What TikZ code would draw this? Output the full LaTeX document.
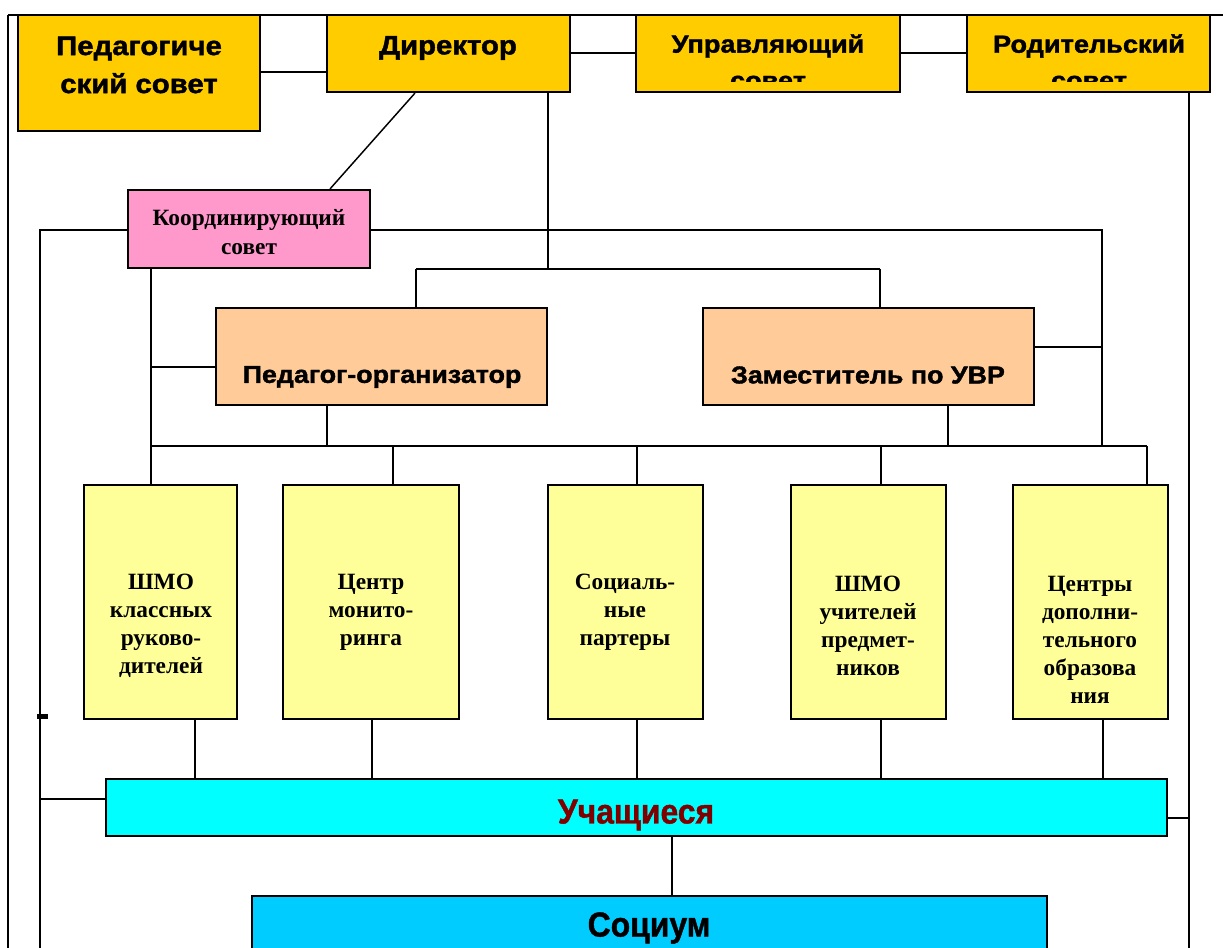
\documentclass[tikz,border=0pt]{standalone}
\usepackage{fontspec}
\setmainfont{Liberation Serif}
\newfontfamily\hv[FakeStretch=1.1,BoldFeatures={FakeBold=1.6}]{Liberation Sans}
\newfontfamily\hvn[FakeStretch=0.92,BoldFeatures={FakeBold=1.2}]{Liberation Sans}
\definecolor{gold}{HTML}{FFCC00}
\definecolor{pinkc}{HTML}{FF99CC}
\definecolor{peach}{HTML}{FFCC99}
\definecolor{lyel}{HTML}{FFFF99}
\definecolor{cyanc}{HTML}{00FFFF}
\definecolor{skyc}{HTML}{00CCFF}
\definecolor{dred}{HTML}{800000}
\newcommand\mkbox[6]{\node[box,#2,minimum width={(#5-#3)*0.75pt},minimum height={(#6-#4)*0.75pt}] (#1) at ({(#3+#5)/2},{(#4+#6)/2}) {};}
\begin{document}
\begin{tikzpicture}[x=0.75pt,y=-0.75pt,
  box/.style={draw=black,line width=1.6pt,inner sep=0pt,rectangle},
  ln/.style={draw=black,line width=1.1pt},
  tx/.style={inner sep=0pt,align=center},
  topf/.style={font=\hv\bfseries\fontsize{20}{28.5}\selectfont},
  topg/.style={font=\hv\bfseries\fontsize{18.5}{26}\selectfont},
  midf/.style={font=\hv\bfseries\fontsize{18.3}{22}\selectfont},
  bigf/.style={font=\hvn\bfseries\fontsize{26}{30}\selectfont},
  serf/.style={font=\bfseries\fontsize{17.5}{21}\selectfont}]
\clip (0,0) rectangle (1223,948);
\fill[white] (0,0) rectangle (1223,948);

% frame lines
\coordinate (tl) at (8,15);
\coordinate (tr) at (1223,15);
\coordinate (bl) at (8,948);
\draw[ln] (tl) -- (tr);
\draw[ln] (tl) -- (bl);

% boxes
\mkbox{ped}{fill=gold}{18}{15}{260}{131}
\mkbox{dir}{fill=gold}{327}{15}{570}{92}
\mkbox{upr}{fill=gold}{636}{15}{900}{92}
\mkbox{rod}{fill=gold}{967}{15}{1210}{92}
\mkbox{koord}{fill=pinkc}{128}{190}{370}{268}
\mkbox{pedorg}{fill=peach}{216}{308}{547}{405}
\mkbox{zam}{fill=peach}{703}{308}{1034}{405}
\mkbox{b1}{fill=lyel}{84}{485}{237}{719}
\mkbox{b2}{fill=lyel}{283}{485}{459}{719}
\mkbox{b3}{fill=lyel}{548}{485}{703}{719}
\mkbox{b4}{fill=lyel}{791}{485}{946}{719}
\mkbox{b5}{fill=lyel}{1013}{485}{1168}{719}
\mkbox{uch}{fill=cyanc}{106}{779}{1167}{836}
\mkbox{soc}{fill=skyc}{252}{896}{1047}{990}

% texts
\node[tx,topf] (ped-t) at (139,65) {Педагогиче\\ский совет};
\node[tx,topf] (dir-t) at (448,48) {Директор};
\node[tx,topg] (upr-t) at (768,46) {Управляющий};
\node[tx,topg] (rod-t) at (1089,46) {Родительский};
\begin{scope}
\clip (636,15) rectangle (1210,82);
\node[tx,topg,anchor=base] (upr-t2) at (768,89) {совет};
\node[tx,topg,anchor=base] (rod-t2) at (1089,89) {совет};
\end{scope}
\node[tx,serf,font=\bfseries\fontsize{17.5}{21.5}\selectfont] (koord-t) at (249,232) {Координирующий\\совет};
\node[tx,midf] (pedorg-t) at (382,377) {Педагог-организатор};
\node[tx,midf] (zam-t) at (868,375) {Заместитель по УВР};
\node[tx,serf] (b1-t) at (161,626) {ШМО\\классных\\руково-\\дителей};
\node[tx,serf] (b2-t) at (371,612) {Центр\\монито-\\ринга};
\node[tx,serf] (b3-t) at (625,612) {Социаль-\\ные\\партеры};
\node[tx,serf] (b4-t) at (868,626) {ШМО\\учителей\\предмет-\\ников};
\node[tx,serf] (b5-t) at (1090,640) {Центры\\дополни-\\тельного\\образова\\ния};
\node[tx,bigf,text=dred] (uch-t) at (636,815) {Учащиеся};
\node[tx,bigf] (soc-t) at (649,928) {Социум};

% helper coordinates
\coordinate (y72) at (0,72);
\coordinate (y53) at (0,53);
\coordinate (xd1) at (415,0);
\coordinate (xd2) at (330,0);
\coordinate (j1) at (548,269);
\coordinate (j2) at (416,269);
\coordinate (j3) at (880,269);
\coordinate (k1) at (40,230);
\coordinate (k2) at (40,948);
\coordinate (r1) at (1102,230);
\coordinate (r2) at (1102,446);
\coordinate (y347) at (0,347);
\coordinate (v1) at (151,0);
\coordinate (y367) at (0,367);
\coordinate (bus1) at (151,446);
\coordinate (bus2) at (1147,446);
\coordinate (x327) at (327,0);
\coordinate (x948) at (948,0);
\coordinate (x393) at (393,0);
\coordinate (x637) at (637,0);
\coordinate (x881) at (881,0);
\coordinate (x1147) at (1147,0);
\coordinate (x195) at (195,0);
\coordinate (x372) at (372,0);
\coordinate (x1103) at (1103,0);
\coordinate (y799) at (0,799);
\coordinate (y818) at (0,818);
\coordinate (rv1) at (1189,818);
\coordinate (rv2) at (1189,948);
\coordinate (x672) at (672,0);

% connectors
\draw[ln] (ped.east |- y72) -- (dir.west |- y72);
\draw[ln] (dir.east |- y53) -- (upr.west |- y53);
\draw[ln] (upr.east |- y53) -- (rod.west |- y53);
\draw[ln] (dir.south -| xd1) -- (koord.north -| xd2);
\draw[ln] (dir.south -| j1) -- (j1);
\draw[ln] (j2) -- (j3);
\draw[ln] (j2) -- (pedorg.north -| j2);
\draw[ln] (j3) -- (zam.north -| j3);
\draw[ln] (koord.west |- k1) -- (k1) -- (k2);
\draw[ln] (koord.east |- r1) -- (r1) -- (r2);
\draw[ln] (zam.east |- y347) -- (r1 |- y347);
\draw[ln] (koord.south -| v1) -- (b1.north -| v1);
\draw[ln] (v1 |- y367) -- (pedorg.west |- y367);
\draw[ln] (bus1) -- (bus2);
\draw[ln] (pedorg.south -| x327) -- (bus1 -| x327);
\draw[ln] (zam.south -| x948) -- (bus1 -| x948);
\draw[ln] (bus1 -| x393) -- (b2.north -| x393);
\draw[ln] (bus1 -| x637) -- (b3.north -| x637);
\draw[ln] (bus1 -| x881) -- (b4.north -| x881);
\draw[ln] (bus2) -- (b5.north -| x1147);
\draw[ln] (b1.south -| x195) -- (uch.north -| x195);
\draw[ln] (b2.south -| x372) -- (uch.north -| x372);
\draw[ln] (b3.south -| x637) -- (uch.north -| x637);
\draw[ln] (b4.south -| x881) -- (uch.north -| x881);
\draw[ln] (b5.south -| x1103) -- (uch.north -| x1103);
\draw[ln] (uch.west |- y799) -- (k1 |- y799);
\draw[ln] (uch.east |- y818) -- (rv1);
\draw[ln] (rod.south -| rv1) -- (rv2);
\draw[ln] (uch.south -| x672) -- (soc.north -| x672);
\fill[black] (37,714) rectangle (48,719);
\end{tikzpicture}
\end{document}
